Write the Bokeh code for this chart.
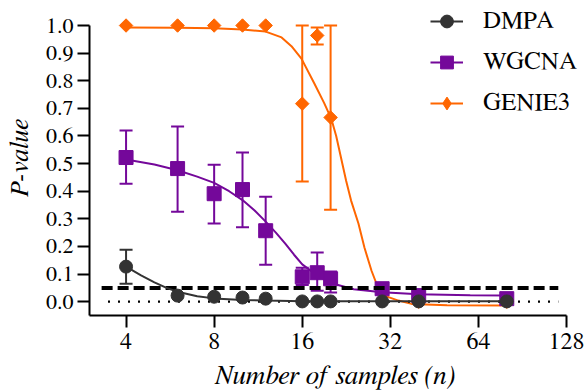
import math
from bokeh.plotting import figure
from bokeh.models import (ColumnDataSource, Whisker, TeeHead, FixedTicker,
                          PrintfTickFormatter, Legend, LegendItem, Range1d)
from bokeh.embed import file_html
from bokeh.resources import INLINE

# ---------------- data ----------------
n_samples = [4, 6, 8, 10, 12, 16, 18, 20, 30, 40, 80]

dmpa_p = [0.127, 0.022, 0.018, 0.015, 0.011, 0.001, 0.001, 0.001, 0.001, 0.001, 0.001]
dmpa_lo = [0.065, 0.022, 0.018, 0.015, 0.011, 0.001, 0.001, 0.001, 0.001, 0.001, 0.001]
dmpa_hi = [0.188, 0.022, 0.018, 0.015, 0.011, 0.001, 0.001, 0.001, 0.001, 0.001, 0.001]

wgcna_p = [0.522, 0.482, 0.391, 0.406, 0.257, 0.090, 0.105, 0.083, 0.047, 0.022, 0.011]
wgcna_lo = [0.427, 0.326, 0.283, 0.270, 0.134, 0.060, 0.040, 0.033, 0.047, 0.022, 0.011]
wgcna_hi = [0.620, 0.634, 0.496, 0.540, 0.380, 0.123, 0.178, 0.109, 0.047, 0.022, 0.011]

genie_p = [1.0, 1.0, 1.0, 1.0, 1.0, 0.717, 0.964, 0.667, 0.045, 0.0, 0.0]
genie_lo = [1.0, 1.0, 1.0, 1.0, 1.0, 0.435, 0.931, 0.333, 0.045, 0.0, 0.0]
genie_hi = [1.0, 1.0, 1.0, 1.0, 1.0, 1.0, 0.993, 1.0, 0.045, 0.0, 0.0]

# fitted curves
dmpa_fit_x = [4, 4.5, 5, 5.5, 6, 7, 8, 10, 12, 16, 20, 30, 40, 80]
dmpa_fit_y = [0.127, 0.095, 0.070, 0.050, 0.036, 0.020, 0.012, 0.006, 0.004,
              0.002, 0.002, 0.002, 0.002, 0.002]

wgcna_fit_x = [4, 5, 6, 7, 8, 9, 10, 11, 12, 13, 14, 15, 16, 18, 20, 24, 30, 40, 60, 80]
wgcna_fit_y = [0.515, 0.497, 0.476, 0.453, 0.430, 0.400, 0.368, 0.330, 0.290, 0.250,
               0.210, 0.170, 0.135, 0.095, 0.068, 0.045, 0.034, 0.027, 0.023, 0.022]

genie_fit_x = [4, 6, 8, 10, 12, 13.6, 14.7, 15.9, 17.6, 19.0, 20.1, 20.9, 22.6, 23.5,
               24.9, 26.1, 27.6, 28.7, 30.5, 34.1, 37.8, 50, 80]
genie_fit_y = [0.993, 0.992, 0.990, 0.986, 0.978, 0.957, 0.925, 0.880, 0.790, 0.720,
               0.663, 0.600, 0.438, 0.366, 0.283, 0.196, 0.112, 0.065, 0.022, 0.004,
               -0.008, -0.013, -0.014]

alpha_level = [0.05, 0.05]
alpha_x = [3.3, 120]
zero_level = [0.0, 0.0]
zero_x = [3.47, 120]

x_ticks = [4, 8, 16, 32, 64, 128]
y_ticks = [0.0, 0.1, 0.2, 0.3, 0.4, 0.5, 0.6, 0.7, 0.8, 0.9, 1.0]

series_names = ["DMPA", "WGCNA", "GENIE3"]
C_DMPA = "#333333"
C_WGCNA = "#74089A"
C_GENIE = "#FF6600"
FONT = "FreeSerif"

# ---------------- figure ----------------
# the frame runs a little past the last tick so the legend is not clipped;
# the axis lines are limited with bounds
p = figure(width=585, height=391, x_axis_type="log",
           x_range=Range1d(3, 142.9), y_range=Range1d(-0.05, 1.0906),
           output_backend="svg", toolbar_location=None,
           min_border_left=89, min_border_right=5, min_border_top=0,
           min_border_bottom=76)
p.xgrid.visible = False
p.ygrid.visible = False
p.outline_line_color = None
p.background_fill_color = "white"

for ax in (p.xaxis[0], p.yaxis[0]):
    ax.axis_line_width = 2
    ax.axis_line_color = "black"
    ax.major_tick_line_width = 2
    ax.major_tick_line_color = "black"
    ax.major_tick_in = 0
    ax.minor_tick_line_color = None
    ax.major_label_text_font = FONT
    ax.axis_label_text_font = FONT
    ax.axis_label_text_font_style = "italic"
    ax.axis_label_text_color = "black"
    ax.major_label_text_color = "black"

p.xaxis.ticker = FixedTicker(ticks=x_ticks, minor_ticks=[])
p.xaxis.formatter = PrintfTickFormatter(format="%d")
p.xaxis.bounds = (3, 128)
p.xaxis.major_tick_out = 12
p.xaxis.major_label_standoff = 5
p.xaxis.major_label_text_font_size = "24px"
p.xaxis.axis_label = "Number of samples (n)"
p.xaxis.axis_label_text_font_size = "27px"
p.xaxis.axis_label_standoff = 10

p.yaxis.ticker = FixedTicker(ticks=y_ticks, minor_ticks=[])
p.yaxis.formatter = PrintfTickFormatter(format="%.1f")
p.yaxis.bounds = (-0.05, 1.0)
p.yaxis.major_tick_out = 12
p.yaxis.major_label_standoff = 4
p.yaxis.major_label_text_font_size = "22px"
p.yaxis.axis_label = "P-value"
p.yaxis.axis_label_text_font_size = "26px"
p.yaxis.axis_label_standoff = 10


def add_whiskers(xs, lo, hi, color):
    keep = [i for i in range(len(xs)) if hi[i] - lo[i] > 0.02]
    src = ColumnDataSource(dict(x=[xs[i] for i in keep],
                                lo=[lo[i] for i in keep],
                                hi=[hi[i] for i in keep]))
    w = Whisker(source=src, base="x", lower="lo", upper="hi",
                line_color=color, line_width=2,
                upper_head=TeeHead(size=13, line_color=color, line_width=2),
                lower_head=TeeHead(size=13, line_color=color, line_width=2))
    p.add_layout(w)


add_whiskers(n_samples, genie_lo, genie_hi, C_GENIE)
add_whiskers(n_samples, wgcna_lo, wgcna_hi, C_WGCNA)
add_whiskers(n_samples, dmpa_lo, dmpa_hi, C_DMPA)

# GENIE3 (legend key: a tiny diamond hidden under the first marker)
l_genie = p.line(genie_fit_x, genie_fit_y, line_color=C_GENIE, line_width=2)
k_genie = p.scatter(n_samples[:1], genie_p[:1], marker="diamond", size=1,
                    fill_color=C_GENIE, line_color=C_GENIE)
s_genie = p.scatter(n_samples, genie_p, marker="square", angle=math.pi / 4, size=9.5,
                    fill_color=C_GENIE, line_color=C_GENIE)
# WGCNA
l_wgcna = p.line(wgcna_fit_x, wgcna_fit_y, line_color=C_WGCNA, line_width=2)
s_wgcna = p.scatter(n_samples, wgcna_p, marker="square", size=14,
                    fill_color=C_WGCNA, line_color=C_WGCNA)
# reference lines
p.line(zero_x, zero_level, line_color="black", line_width=2.2, line_dash="2 8")
p.line(alpha_x, alpha_level, line_color="black", line_width=4, line_dash="11 5")
# DMPA
l_dmpa = p.line(dmpa_fit_x, dmpa_fit_y, line_color=C_DMPA, line_width=2)
s_dmpa = p.scatter(n_samples, dmpa_p, marker="circle", size=13,
                   fill_color=C_DMPA, line_color=C_DMPA)

legend = Legend(items=[
    LegendItem(label=series_names[0], renderers=[l_dmpa, s_dmpa]),
    LegendItem(label=series_names[1], renderers=[l_wgcna, s_wgcna]),
    LegendItem(label=series_names[2], renderers=[l_genie, k_genie]),
], location=(341, 196), glyph_width=33, glyph_height=32, label_height=32,
    label_standoff=20, spacing=9, padding=0, margin=0,
    border_line_color=None, background_fill_alpha=0,
    label_text_font=FONT, label_text_font_size="25px", label_text_color="black")
p.add_layout(legend)

open("out.html", "w").write(file_html(p, INLINE))
